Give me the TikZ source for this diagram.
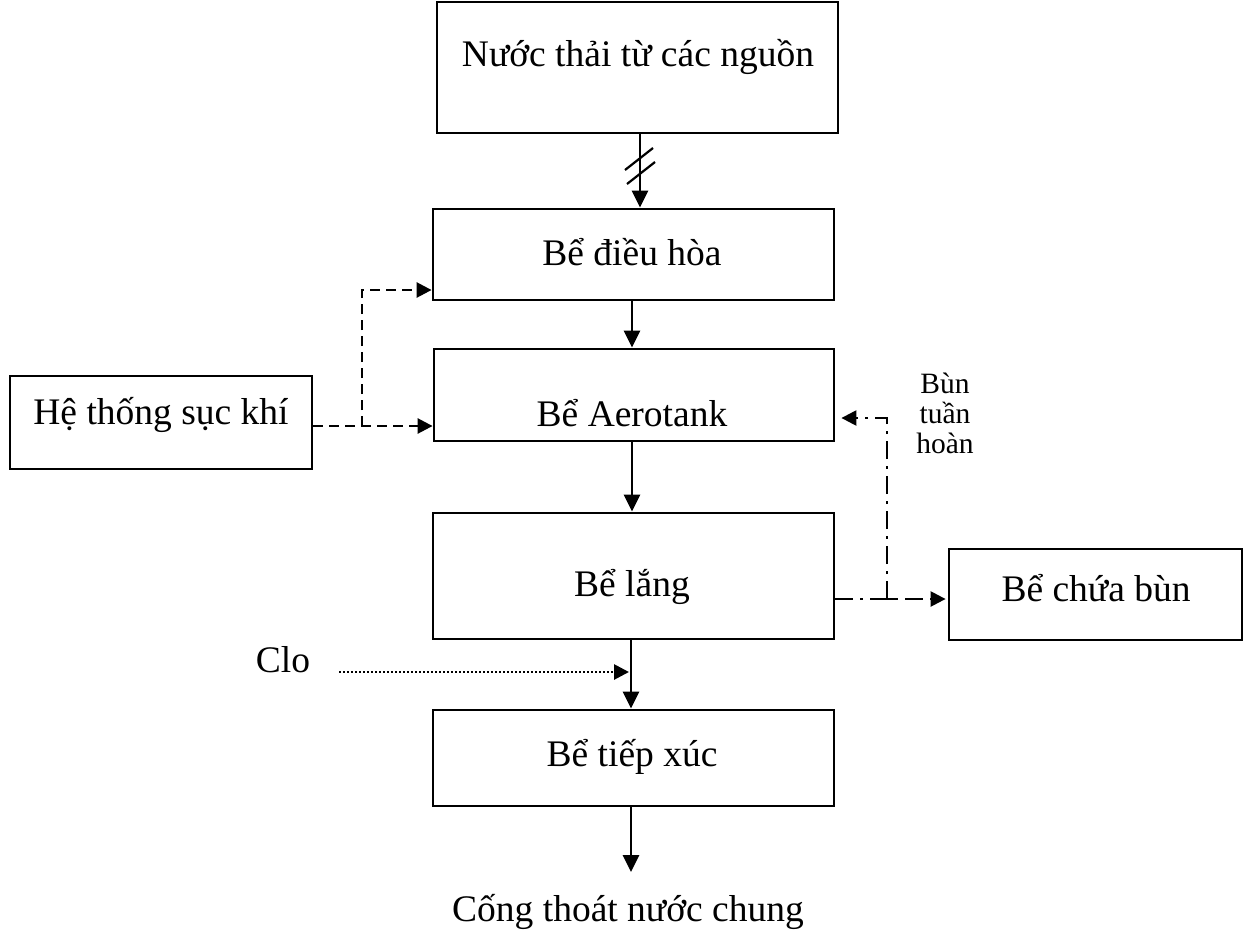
\documentclass[tikz,border=0pt]{standalone}
\usepackage{fontspec}
\setmainfont{Liberation Serif}
\usetikzlibrary{arrows.meta}
\begin{document}
\begin{tikzpicture}[x=1pt,y=-1pt,
  box/.style={draw,line width=2.8pt,rectangle,inner sep=0pt},
  txt/.style={font=\fontsize{37.5}{40}\selectfont,inner sep=0pt},
  small/.style={font=\fontsize{29.5}{30}\selectfont,inner sep=0pt},
  flow/.style={line width=2.8pt,-{Triangle[length=17pt,width=16pt]}},
  dsh/.style={line width=2.6pt,dash pattern=on 10pt off 6pt,-{Triangle[length=15pt,width=15pt]}},
  dshd/.style={line width=2.4pt,dash pattern=on 18pt off 7pt on 3pt off 7pt,-{Triangle[length=15pt,width=15pt]}},
  dot/.style={line width=2.8pt,dash pattern=on 2pt off 2pt,-{Triangle[length=15pt,width=15pt]}},
  plain/.style={line width=2.4pt}]
\useasboundingbox (0,0) rectangle (1253,930);
% boxes
\node[box,minimum width=401pt,minimum height=131pt] (b1) at (637.5,67.5) {};
\node[box,minimum width=401pt,minimum height=91pt] (b2) at (633.5,254.5) {};
\node[box,minimum width=400pt,minimum height=92pt] (b3) at (634,395) {};
\node[box,minimum width=401pt,minimum height=126pt] (b4) at (633.5,576) {};
\node[box,minimum width=401pt,minimum height=96pt] (b5) at (633.5,758) {};
\node[box,minimum width=302pt,minimum height=93pt] (bl) at (161,422.5) {};
\node[box,minimum width=293pt,minimum height=91pt] (br) at (1095.5,594.5) {};
% texts
\node[txt] (t1) at (638,57) {Nước thải từ các nguồn};
\node[txt] (t2) at (632,252) {Bể điều hòa};
\node[txt] (t3) at (632,413) {Bể Aerotank};
\node[txt] (t4) at (632,587) {Bể lắng};
\node[txt] (t5) at (632,757) {Bể tiếp xúc};
\node[txt] (tl) at (161,415) {Hệ thống sục khí};
\node[txt] (tr) at (1096,588) {Bể chứa bùn};
\node[txt] (tout) at (628,912) {Cống thoát nước chung};
\node[txt] (clo) at (283,660) {Clo};
\node[small] (s1) at (945,383) {Bùn};
\node[small] (s2) at (945,413) {tuần};
\node[small] (s3) at (945,443) {hoàn};
% main flow
\draw[flow] (640,133) coordinate (a1) -- (a1 |- b2.north);
\draw[line width=2.2pt] (625,170) -- (653,148);
\draw[line width=2.2pt] (627,184) -- (655,162);
\draw[flow] (632,300) coordinate (a2) -- (a2 |- b3.north);
\draw[flow] (632,441) coordinate (a3) -- (a3 |- b4.north);
\draw[flow] (631,639) coordinate (a4) -- (a4 |- b5.north);
\coordinate (end) at (631,872);
\draw[flow] (631,806) coordinate (a5) -- (end);
% aeration
\coordinate (j1) at (362,426);
\draw[dsh] (bl.east |- j1) -- (j1 -| b3.west);
\draw[dsh] (j1) -- (362,290) coordinate (k1) -- (k1 -| b2.west);
% sludge
\coordinate (j2) at (887,599);
\draw[dshd] (b4.east |- j2) -- ([xshift=-2pt]j2 -| br.west);
\draw[dshd] (j2) -- (887,418) coordinate (k2) -- ([xshift=6pt]k2 -| b3.east);
\draw[plain] (878,599) -- (896,599);
% chlorine
\coordinate (c1) at (339,672);
\draw[dot] (c1) -- (629,672);
\end{tikzpicture}
\end{document}
